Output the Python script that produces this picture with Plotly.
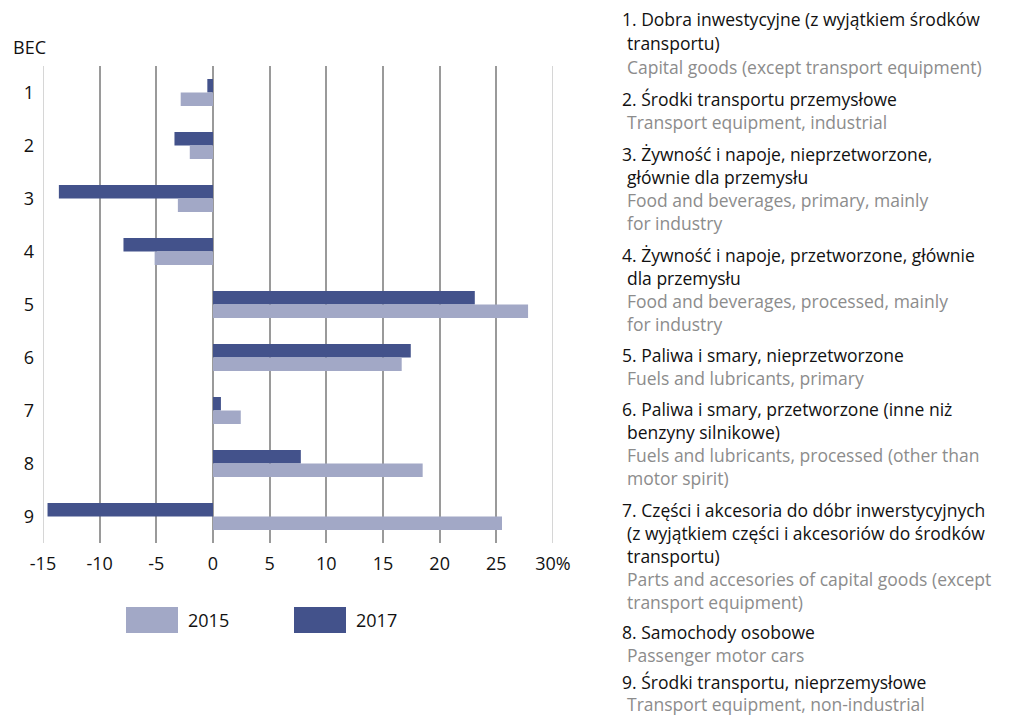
import plotly.graph_objects as go

# BEC categories and percentage changes
categories = [1, 2, 3, 4, 5, 6, 7, 8, 9]
values_2015 = [-2.85, -2.05, -3.1, -5.15, 27.8, 16.65, 2.45, 18.5, 25.5]
values_2017 = [-0.5, -3.4, -13.6, -7.9, 23.1, 17.45, 0.7, 7.75, -14.6]
x_ticks = [-15, -10, -5, 0, 5, 10, 15, 20, 25, 30]
x_tick_labels = ["-15", "-10", "-5", "0", "5", "10", "15", "20", "25", "30%"]

# description list: (Polish lines, English lines)
descriptions = [
    (["1. Dobra inwestycyjne (z wyjątkiem środków", "transportu)"],
     ["Capital goods (except transport equipment)"]),
    (["2. Środki transportu przemysłowe"],
     ["Transport equipment, industrial"]),
    (["3. Żywność i napoje, nieprzetworzone,", "głównie dla przemysłu"],
     ["Food and beverages, primary, mainly", "for industry"]),
    (["4. Żywność i napoje, przetworzone, głównie", "dla przemysłu"],
     ["Food and beverages, processed, mainly", "for industry"]),
    (["5. Paliwa i smary, nieprzetworzone"],
     ["Fuels and lubricants, primary"]),
    (["6. Paliwa i smary, przetworzone (inne niż", "benzyny silnikowe)"],
     ["Fuels and lubricants, processed (other than", "motor spirit)"]),
    (["7. Części i akcesoria do dóbr inwerstycyjnych",
      "(z wyjątkiem części i akcesoriów do środków", "transportu)"],
     ["Parts and accesories of capital goods (except", "transport equipment)"]),
    (["8. Samochody osobowe"],
     ["Passenger motor cars"]),
    (["9. Środki transportu, nieprzemysłowe"],
     ["Transport equipment, non-industrial"]),
]

W, H = 1016, 715
ML, MR, MT, MB = 43, 463, 66, 172
PW, PH = W - ML - MR, H - MT - MB
FONT = "Open Sans"
C2015 = "#a2a8c6"
C2017 = "#43528b"
AXIS_SIZE = 18
TEXT_SIZE = 17.5


def px(xp):
    return (xp - ML) / PW


def py(yp):
    return 1 - (yp - MT) / PH


fig = go.Figure()
fig.add_trace(go.Bar(y=categories, x=values_2017, orientation="h",
                     marker=dict(color=C2017, line=dict(width=0)), name="2017"))
fig.add_trace(go.Bar(y=categories, x=values_2015, orientation="h",
                     marker=dict(color=C2015, line=dict(width=0)), name="2015"))

annotations = []
# axis caption
annotations.append(dict(x=px(11), y=py(47), xref="paper", yref="paper", text="BEC",
                        showarrow=False, xanchor="left", yanchor="middle",
                        font=dict(family=FONT, size=AXIS_SIZE, color="#111")))

# legend swatches and labels
shapes = []
for x0, color, label in [(126, C2015, "2015"), (294, C2017, "2017")]:
    shapes.append(dict(type="rect", xref="paper", yref="paper",
                       x0=px(x0), x1=px(x0 + 52), y0=py(633), y1=py(607),
                       fillcolor=color, line=dict(width=0)))
    annotations.append(dict(x=px(x0 + 60), y=py(620), xref="paper", yref="paper",
                            text=label, showarrow=False, xanchor="left", yanchor="middle",
                            font=dict(family=FONT, size=AXIS_SIZE, color="#111")))

# lighter edge gridlines
for xv in (x_ticks[0], x_ticks[-1]):
    shapes.append(dict(type="line", xref="x", yref="paper", x0=xv, x1=xv, y0=0, y1=1,
                       line=dict(color="#c8c8c8", width=1.5), layer="above"))

# right-hand description text
line_y = [19, 43, 67, 99, 122, 154, 177, 200, 223, 255, 278, 301, 324, 355, 378,
          409, 432, 455, 478, 510, 533, 556, 579, 602, 632, 655, 682, 704]
k = 0
for pl, en in descriptions:
    for i, t in enumerate(pl):
        annotations.append(dict(x=px(620 if i == 0 else 625), y=py(line_y[k]),
                                xref="paper", yref="paper", text=t, showarrow=False,
                                xanchor="left", yanchor="middle",
                                font=dict(family=FONT, size=TEXT_SIZE, color="#111")))
        k += 1
    for t in en:
        annotations.append(dict(x=px(625), y=py(line_y[k]),
                                xref="paper", yref="paper", text=t, showarrow=False,
                                xanchor="left", yanchor="middle",
                                font=dict(family=FONT, size=TEXT_SIZE, color="#8c8c8c")))
        k += 1

fig.update_layout(
    width=W, height=H,
    margin=dict(l=ML, r=MR, t=MT, b=MB, pad=0),
    paper_bgcolor="white", plot_bgcolor="white",
    barmode="group", bargap=0.49, bargroupgap=0,
    showlegend=False,
    font=dict(family=FONT, size=AXIS_SIZE, color="#111"),
    annotations=annotations, shapes=shapes,
    xaxis=dict(range=[-15, 30], tickvals=x_ticks, ticktext=x_tick_labels,
               showgrid=True, gridcolor="#9a9a9a", gridwidth=1.5,
               zeroline=False, showline=False, ticks="",
               ticklabelstandoff=8,
               tickfont=dict(family=FONT, size=AXIS_SIZE, color="#111")),
    yaxis=dict(range=[9.5, 0.5], tickvals=categories,
               ticktext=[str(c) for c in categories],
               showgrid=False, zeroline=False, showline=False, ticks="",
               ticklabelstandoff=8,
               tickfont=dict(family=FONT, size=AXIS_SIZE, color="#111")),
)

fig.write_html("out.html")
